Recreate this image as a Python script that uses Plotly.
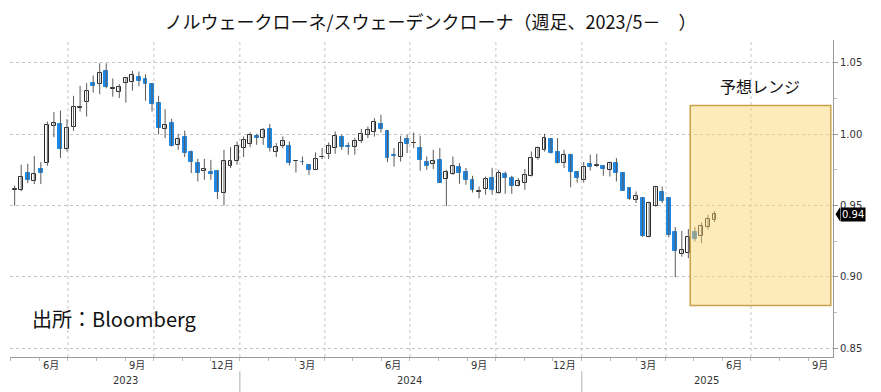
import pandas as pd
import plotly.graph_objects as go

# ---------------- data ----------------
dates = pd.date_range("2023-04-28", periods=109, freq="7D")

opens = [0.9736, 0.9610, 0.9610, 0.9727, 0.9675, 0.9755, 0.9801, 1.0056, 1.0072, 0.9897,
         1.0053, 1.0185, 1.0222, 1.0361, 1.0352, 1.0443, 1.0318, 1.0298, 1.0357, 1.0364,
         1.0399, 1.0385, 1.0352, 1.0221, 1.0037, 1.0077, 0.9924, 0.9979, 0.9878, 0.9801,
         0.9743, 0.9738, 0.9743, 0.9591, 0.9778, 0.9815, 0.9902, 0.9930, 0.9990, 0.9972,
         1.0035, 0.9878, 0.9918, 0.9918, 0.9811, 0.9806, 0.9785, 0.9750, 0.9837, 0.9862,
         0.9902, 0.9979, 0.9916, 0.9909, 0.9955, 0.9995, 1.0018, 1.0072, 1.0025, 0.9850,
         0.9843, 0.9965, 0.9935, 0.9902, 0.9808, 0.9792, 0.9820, 0.9685, 0.9722, 0.9769,
         0.9738, 0.9680, 0.9596, 0.9615, 0.9692, 0.9587, 0.9722, 0.9692, 0.9638, 0.9661,
         0.9708, 0.9832, 0.9890, 0.9965, 0.9874, 0.9801, 0.9855, 0.9738, 0.9680, 0.9790,
         0.9780, 0.9778, 0.9750, 0.9797, 0.9731, 0.9622, 0.9540, 0.9552, 0.9280, 0.9496,
         0.9598, 0.9552, 0.9311, 0.9159, 0.9166, 0.9311, 0.9283, 0.9352, 0.9398]
highs = [0.9750, 0.9639, 0.9785, 0.9792, 0.9848, 0.9804, 1.0088, 1.0154, 1.0165, 1.0105,
         1.0268, 1.0338, 1.0357, 1.0411, 1.0496, 1.0496, 1.0390, 1.0350, 1.0399, 1.0443,
         1.0438, 1.0419, 1.0358, 1.0268, 1.0175, 1.0107, 1.0002, 1.0025, 0.9885, 0.9827,
         0.9827, 0.9820, 0.9748, 0.9890, 0.9909, 0.9948, 0.9983, 1.0011, 1.0002, 1.0042,
         1.0072, 0.9937, 0.9983, 0.9948, 0.9815, 0.9843, 0.9788, 0.9871, 0.9902, 0.9941,
         1.0018, 0.9995, 0.9941, 0.9972, 1.0035, 1.0053, 1.0112, 1.0135, 1.0028, 0.9902,
         0.9988, 0.9995, 1.0011, 0.9988, 0.9843, 0.9890, 0.9902, 0.9750, 0.9843, 0.9797,
         0.9762, 0.9708, 0.9633, 0.9703, 0.9764, 0.9750, 0.9738, 0.9708, 0.9692, 0.9755,
         0.9878, 0.9913, 1.0002, 0.9972, 0.9972, 0.9890, 0.9862, 0.9740, 0.9804, 0.9855,
         0.9862, 0.9780, 0.9808, 0.9832, 0.9733, 0.9625, 0.9598, 0.9555, 0.9528, 0.9638,
         0.9633, 0.9555, 0.9349, 0.9322, 0.9335, 0.9349, 0.9381, 0.9435, 0.9461]
lows = [0.9620, 0.9499, 0.9600, 0.9657, 0.9650, 0.9650, 0.9778, 0.9979, 0.9832, 0.9878,
        1.0023, 1.0158, 1.0123, 1.0290, 1.0279, 1.0321, 1.0262, 1.0252, 1.0220, 1.0305,
        1.0336, 1.0234, 1.0158, 0.9998, 0.9972, 0.9913, 0.9890, 0.9839, 0.9727, 0.9668,
        0.9680, 0.9680, 0.9545, 0.9500, 0.9762, 0.9785, 0.9839, 0.9909, 0.9925, 0.9925,
        0.9878, 0.9839, 0.9902, 0.9780, 0.9731, 0.9785, 0.9715, 0.9748, 0.9825, 0.9825,
        0.9862, 0.9890, 0.9855, 0.9855, 0.9937, 0.9972, 0.9983, 1.0011, 0.9804, 0.9773,
        0.9808, 0.9867, 0.9902, 0.9743, 0.9750, 0.9755, 0.9657, 0.9496, 0.9715, 0.9652,
        0.9645, 0.9591, 0.9550, 0.9575, 0.9575, 0.9582, 0.9582, 0.9582, 0.9633, 0.9610,
        0.9703, 0.9820, 0.9878, 0.9865, 0.9795, 0.9762, 0.9628, 0.9661, 0.9661, 0.9745,
        0.9769, 0.9708, 0.9703, 0.9668, 0.9603, 0.9540, 0.9517, 0.9280, 0.9276, 0.9491,
        0.9517, 0.9276, 0.8998, 0.9141, 0.9131, 0.9248, 0.9237, 0.9331, 0.9384]
closes = [0.9631, 0.9615, 0.9703, 0.9680, 0.9722, 0.9731, 1.0063, 1.0081, 0.9895, 1.0042,
          1.0189, 1.0189, 1.0305, 1.0338, 1.0431, 1.0333, 1.0323, 1.0329, 1.0392, 1.0415,
          1.0373, 1.0351, 1.0212, 1.0042, 1.0065, 0.9918, 0.9967, 0.9871, 0.9804, 0.9731,
          0.9757, 0.9724, 0.9598, 0.9815, 0.9813, 0.9918, 0.9960, 0.9995, 0.9972, 1.0030,
          0.9902, 0.9913, 0.9953, 0.9797, 0.9815, 0.9802, 0.9750, 0.9825, 0.9840, 0.9918,
          0.9988, 0.9913, 0.9911, 0.9955, 1.0002, 1.0030, 1.0088, 1.0035, 0.9832, 0.9848,
          0.9941, 0.9930, 0.9939, 0.9820, 0.9780, 0.9815, 0.9661, 0.9734, 0.9778, 0.9731,
          0.9680, 0.9610, 0.9598, 0.9685, 0.9610, 0.9731, 0.9692, 0.9638, 0.9675, 0.9715,
          0.9832, 0.9902, 0.9972, 0.9868, 0.9797, 0.9855, 0.9738, 0.9692, 0.9773, 0.9773,
          0.9781, 0.9755, 0.9797, 0.9731, 0.9605, 0.9545, 0.9568, 0.9286, 0.9521, 0.9629,
          0.9535, 0.9290, 0.9178, 0.9189, 0.9279, 0.9265, 0.9358, 0.9405, 0.9438]

forecast_high = 1.02
forecast_low = 0.88
forecast_start = "2025-04-27"
forecast_end = "2025-09-24 10:00"

month_labels = ["6月", "9月", "12月", "3月", "6月", "9月", "12月", "3月", "6月", "9月"]
month_label_dates = ["2023-06-13", "2023-09-13", "2023-12-13", "2024-03-13", "2024-06-13",
                     "2024-09-13", "2024-12-13", "2025-03-13", "2025-06-13", "2025-09-13"]
year_labels = ["2023", "2024", "2025"]
year_label_dates = ["2023-09-01", "2024-07-01", "2025-05-14"]
year_separators = ["2024-01-01", "2025-01-01"]
quarter_starts = ["2023-07-01", "2023-10-01", "2024-01-01", "2024-04-01", "2024-07-01",
                  "2024-10-01", "2025-01-01", "2025-04-01", "2025-07-01"]
month_starts = [d.strftime("%Y-%m-%d") for d in pd.date_range("2023-05-01", "2025-09-01", freq="MS")]

title_text = "ノルウェークローネ/スウェーデンクローナ（週足、2023/5－　）"
source_text = "出所：Bloomberg"
range_text = "予想レンジ"

# ---------------- figure ----------------
BLUE = "#1E88E5"
UPLINE = "#2b2b2b"
WICK = "#5a5a5a"

wx, wy = [], []
for d, h, l in zip(dates, highs, lows):
    wx += [d, d, None]
    wy += [l, h, None]

base = [min(o, c) for o, c in zip(opens, closes)]
height = [max(abs(c - o), 0.0004) for o, c in zip(opens, closes)]
fill = [("white" if c >= o else BLUE) for o, c in zip(opens, closes)]
edge = [(UPLINE if c >= o else BLUE) for o, c in zip(opens, closes)]

fig = go.Figure()
fig.add_trace(go.Scatter(x=wx, y=wy, mode="lines", line=dict(color=WICK, width=1),
                         hoverinfo="skip", showlegend=False))
fig.add_trace(go.Bar(x=dates, y=height, base=base, width=4.2 * 86400000,
                     marker=dict(color=fill, line=dict(color=edge, width=1)),
                     showlegend=False))

# forecast box
fig.add_shape(type="rect", xref="x", yref="y", x0=forecast_start, x1=forecast_end,
              y0=forecast_low, y1=forecast_high, layer="above",
              fillcolor="rgba(251,212,112,0.47)", line=dict(color="#C9A24C", width=1.5))

# vertical gridlines at quarter starts
for q in quarter_starts:
    fig.add_shape(type="line", xref="x", yref="paper", x0=q, x1=q, y0=0, y1=1,
                  layer="below", line=dict(color="#c4c4c4", width=1, dash="dot"))

# year separators below axis
for s in year_separators:
    fig.add_shape(type="line", xref="x", yref="paper", x0=s, x1=s, y0=-0.045, y1=-0.12,
                  line=dict(color="#b0b0b0", width=1))

# month labels
for lab, d in zip(month_labels, month_label_dates):
    fig.add_annotation(x=d, y=-0.028, xref="x", yref="paper", text=lab, showarrow=False,
                       yanchor="middle", xanchor="center",
                       font=dict(family="DejaVu Sans, Noto Sans CJK JP", size=10, color="#333"))
for lab, d in zip(year_labels, year_label_dates):
    fig.add_annotation(x=d, y=-0.073, xref="x", yref="paper", text=lab, showarrow=False,
                       yanchor="middle", xanchor="center",
                       font=dict(family="DejaVu Sans", size=10, color="#333"))

# forecast label
fig.add_annotation(x="2025-07-11", y=forecast_high, xref="x", yref="y", text=range_text,
                   showarrow=False, yanchor="bottom", yshift=6,
                   font=dict(family="Noto Sans CJK JP", size=16, color="#111"))

# source
fig.add_annotation(x=0.024, y=0.123, xref="paper", yref="paper", text=source_text,
                   showarrow=False, xanchor="left", yanchor="middle",
                   font=dict(family="Noto Sans CJK JP", size=20, color="#111"))

# last price marker
last = closes[-1]
fig.add_shape(type="path", xref="paper", yref="y",
              path=f"M 1.003 {last} L 1.0085 {last + 0.0049} L 1.0085 {last - 0.0049} Z",
              fillcolor="black", line=dict(width=0))
fig.add_annotation(x=1.0085, y=last, xref="paper", yref="y", text=f"{last:.2f}",
                   showarrow=False, xanchor="left", yanchor="middle", bgcolor="black",
                   borderpad=1, font=dict(family="DejaVu Sans", size=10, color="white"))

# the page body adds an 8px offset, so the figure is 8px smaller and its margins shifted
fig.update_layout(
    width=873, height=384,
    margin=dict(l=2, r=48, t=32, b=35),
    paper_bgcolor="white", plot_bgcolor="white",
    title=dict(text=title_text, x=0.484, xanchor="center", y=0.963, yanchor="middle",
               font=dict(family="Noto Sans CJK JP", size=18, color="#111")),
    bargap=0,
    showlegend=False,
)
fig.update_xaxes(
    type="date", range=["2023-04-30", "2025-09-26 19:00"],
    tickmode="array", tickvals=quarter_starts, ticktext=[""] * len(quarter_starts),
    ticks="outside", ticklen=5, tickcolor="#999",
    showgrid=False, showline=True, linecolor="#999", linewidth=1,
    minor=dict(tickmode="array", tickvals=month_starts, ticks="outside", ticklen=3,
               tickcolor="#bbb", showgrid=False),
    rangeslider=dict(visible=False), zeroline=False,
)
fig.update_yaxes(
    side="right", range=[0.8439, 1.0659], tickmode="linear", tick0=0.85, dtick=0.05,
    tickformat=".2f", ticks="outside", ticklen=4, tickcolor="#999",
    showgrid=True, gridcolor="#c4c4c4", griddash="dot", gridwidth=1,
    showline=True, linecolor="#999", linewidth=1, zeroline=False,
    minor=dict(tick0=0.825, dtick=0.025, ticks="outside", ticklen=3, tickcolor="#bbb", showgrid=False),
    tickfont=dict(family="DejaVu Sans", size=10, color="#333"),
)

fig.write_html("out.html")
